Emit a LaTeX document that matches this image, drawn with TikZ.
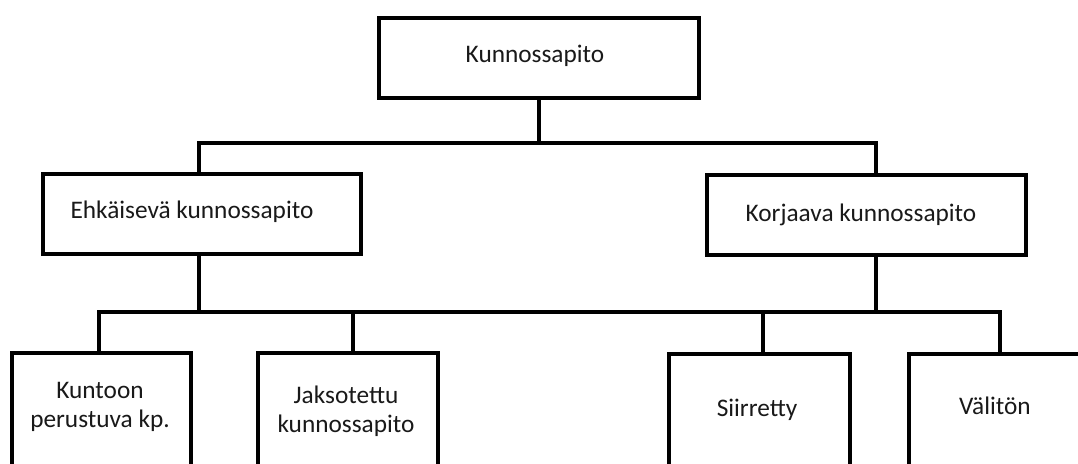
\documentclass[tikz,border=0pt]{standalone}
\usepackage{fontspec}
\setmainfont{Carlito}
\begin{document}
\begin{tikzpicture}[x=1pt,y=-1pt,
  box/.style={draw=black,line width=4pt,inner sep=0pt,fill=white},
  conn/.style={draw=black,line width=4pt,line join=miter},
  lbl/.style={inner sep=0pt,align=center,font=\fontsize{25.3}{29}\selectfont,text=black!90}]
\useasboundingbox (0,0) rectangle (1078,463);
\clip (0,0) rectangle (1078,463);
\fill[white] (0,0) rectangle (1078,463);
% level 0
\node[box,minimum width=320pt,minimum height=80pt] (top) at (539,58) {};
\node[lbl] (toptxt) at (535,56) {Kunnossapito};
% level 1
\node[box,minimum width=318pt,minimum height=80pt] (ehk) at (202,214) {};
\node[lbl] (ehktxt) at (192,212) {Ehkäisevä kunnossapito};
\node[box,minimum width=319pt,minimum height=80pt] (kor) at (866.5,215) {};
\node[lbl] (kortxt) at (861,215) {Korjaava kunnossapito};
% level 2
\node[box,minimum width=179pt,minimum height=160pt] (kun) at (101.5,433) {};
\node[lbl] (kuntxt) at (100,407) {Kuntoon\\perustuva kp.};
\node[box,minimum width=180pt,minimum height=160pt] (jak) at (348,433) {};
\node[lbl] (jaktxt) at (346,411) {Jaksotettu\\kunnossapito};
\node[box,minimum width=181pt,minimum height=160pt] (sii) at (759.5,434) {};
\node[lbl] (siitxt) at (757,410) {Siirretty};
\node[box,minimum width=182pt,minimum height=160pt] (val) at (1000,434) {};
\node[lbl] (valtxt) at (995,406) {Välitön};
% coordinates of junctions
\coordinate (b1) at (539,143);
\coordinate (b2) at (199,312);
% connectors
\draw[conn] (top.south) -- (top.south |- b1);
\draw[conn] (ehk.north -| 199,0) -- (b1 -| 199,0) -- (b1 -| 876,0) -- (kor.north -| 876,0);
\draw[conn] (ehk.south -| 199,0) -- (b2);
\draw[conn] (kor.south -| 876,0) -- (b2 -| 876,0);
\draw[conn] (kun.north -| 99,0) -- (b2 -| 99,0) -- (b2 -| 1000,0) -- (val.north);
\draw[conn] (b2 -| 353,0) -- (jak.north -| 353,0);
\draw[conn] (b2 -| 763,0) -- (sii.north -| 763,0);
\end{tikzpicture}
\end{document}
